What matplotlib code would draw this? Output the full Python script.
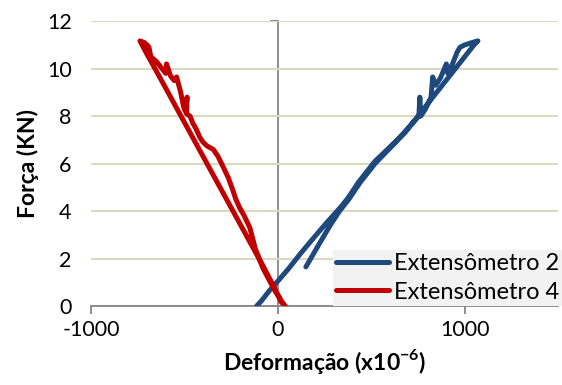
import matplotlib
matplotlib.use('Agg')
import matplotlib.pyplot as plt

# strain (x10^-6) vs force (kN)
ext2_x = [-114, -90, -40, 0, 60, 120, 200, 260, 300, 340, 380, 430, 480, 520, 560,
          600, 640, 680, 720, 755, 760, 765, 790, 820, 829, 845, 870, 902, 910, 935,
          960, 975, 1000, 1040, 1071,
          1050, 990, 900, 810, 720, 630, 520, 440, 380, 330, 280, 220, 150]
ext2_y = [0.0, 0.2, 0.7, 1.05, 1.6, 2.2, 2.95, 3.5, 3.85, 4.2, 4.6, 5.2, 5.7, 6.1, 6.4,
          6.7, 7.0, 7.3, 7.7, 8.0, 8.8, 8.0, 8.3, 8.8, 9.65, 9.3, 9.6, 10.2, 9.8, 10.2,
          10.7, 10.9, 11.0, 11.1, 11.17,
          11.0, 10.4, 9.5, 8.6, 7.7, 6.9, 6.0, 5.2, 4.5, 4.0, 3.4, 2.6, 1.65]

ext4_x = [40, 20, -20, -80, -120, -150, -180, -205, -225, -240, -265, -292, -320, -346,
          -380, -400, -417, -440, -455, -470, -489, -486, -495, -505, -520, -542, -555,
          -575, -596, -600, -620, -650, -680, -690, -700, -715, -738,
          -700, -640, -560, -480, -400, -320, -240, -160, -80, -20, 20]
ext4_y = [0.0, 0.2, 0.7, 1.6, 2.4, 3.3, 3.8, 4.15, 4.5, 4.86, 5.4, 5.85, 6.3, 6.6,
          6.75, 6.9, 7.1, 7.5, 7.7, 8.0, 8.1, 8.8, 8.2, 8.4, 9.0, 9.65, 9.5,
          9.7, 10.2, 9.8, 10.0, 10.3, 10.5, 10.9, 11.0, 11.1, 11.17,
          10.6, 9.75, 8.6, 7.45, 6.3, 5.15, 4.0, 2.85, 1.7, 0.8, 0.15]

labels = ['Extensômetro 2', 'Extensômetro 4']
colors = ['#1f497d', '#c00000']

plt.rcParams['font.family'] = ['Lato', 'DejaVu Sans']
plt.rcParams['axes.unicode_minus'] = False
plt.rcParams['mathtext.fontset'] = 'custom'
plt.rcParams['mathtext.rm'] = 'Lato'
plt.rcParams['mathtext.bf'] = 'Lato:bold'

fig = plt.figure(figsize=(5.62, 3.85), dpi=100)
ax = fig.add_axes([0.162, 0.205, 0.831, 0.740])

ax.plot(ext2_x, ext2_y, color=colors[0], lw=3.6, solid_capstyle='round',
        solid_joinstyle='round', label=labels[0], zorder=3)
ax.plot(ext4_x, ext4_y, color=colors[1], lw=3.6, solid_capstyle='round',
        solid_joinstyle='round', label=labels[1], zorder=3)

ax.set_xlim(-1000, 1500)
ax.set_ylim(0, 12)
ax.set_xticks([-1000, 0, 1000])
ax.set_yticks(range(0, 13, 2))
ax.grid(axis='y', color='#dcd8c2', lw=1.5, zorder=0)
ax.set_axisbelow(True)

for s in ['left', 'right', 'top']:
    ax.spines[s].set_visible(False)
ax.spines['bottom'].set_color('#868686')
ax.spines['bottom'].set_linewidth(1.3)
ax.tick_params(axis='x', direction='out', length=6, width=1.3, color='#868686',
               labelsize=15.5, pad=4)
ax.tick_params(axis='y', length=0, labelsize=15.5, pad=14)

# vertical axis crossing at x = 0
sec = ax.secondary_yaxis(0.4)
sec.set_yticks(range(0, 13, 2))
sec.spines['left'].set_color('#868686')
sec.spines['left'].set_linewidth(1.3)
sec.tick_params(axis='y', direction='out', length=5.5, width=1.3, color='#868686',
                labelleft=False, labelright=False)

ax.set_xlabel('Deformação (x10$^{\\mathbf{-6}}$)', fontsize=16.5, fontweight='bold',
              labelpad=5)
ax.set_ylabel('Força (KN)', fontsize=16.5, fontweight='bold', labelpad=6)

leg = ax.legend(loc='lower right', bbox_to_anchor=(1.01, 0.0), fontsize=17,
                frameon=True, fancybox=False, handlelength=2.25, handletextpad=0.2,
                borderpad=0.15, labelspacing=0.3, borderaxespad=0)
leg.get_frame().set_facecolor('#f2f2f2')
leg.get_frame().set_edgecolor('none')
leg.get_frame().set_alpha(1)

fig.savefig('out.png', dpi=100)
